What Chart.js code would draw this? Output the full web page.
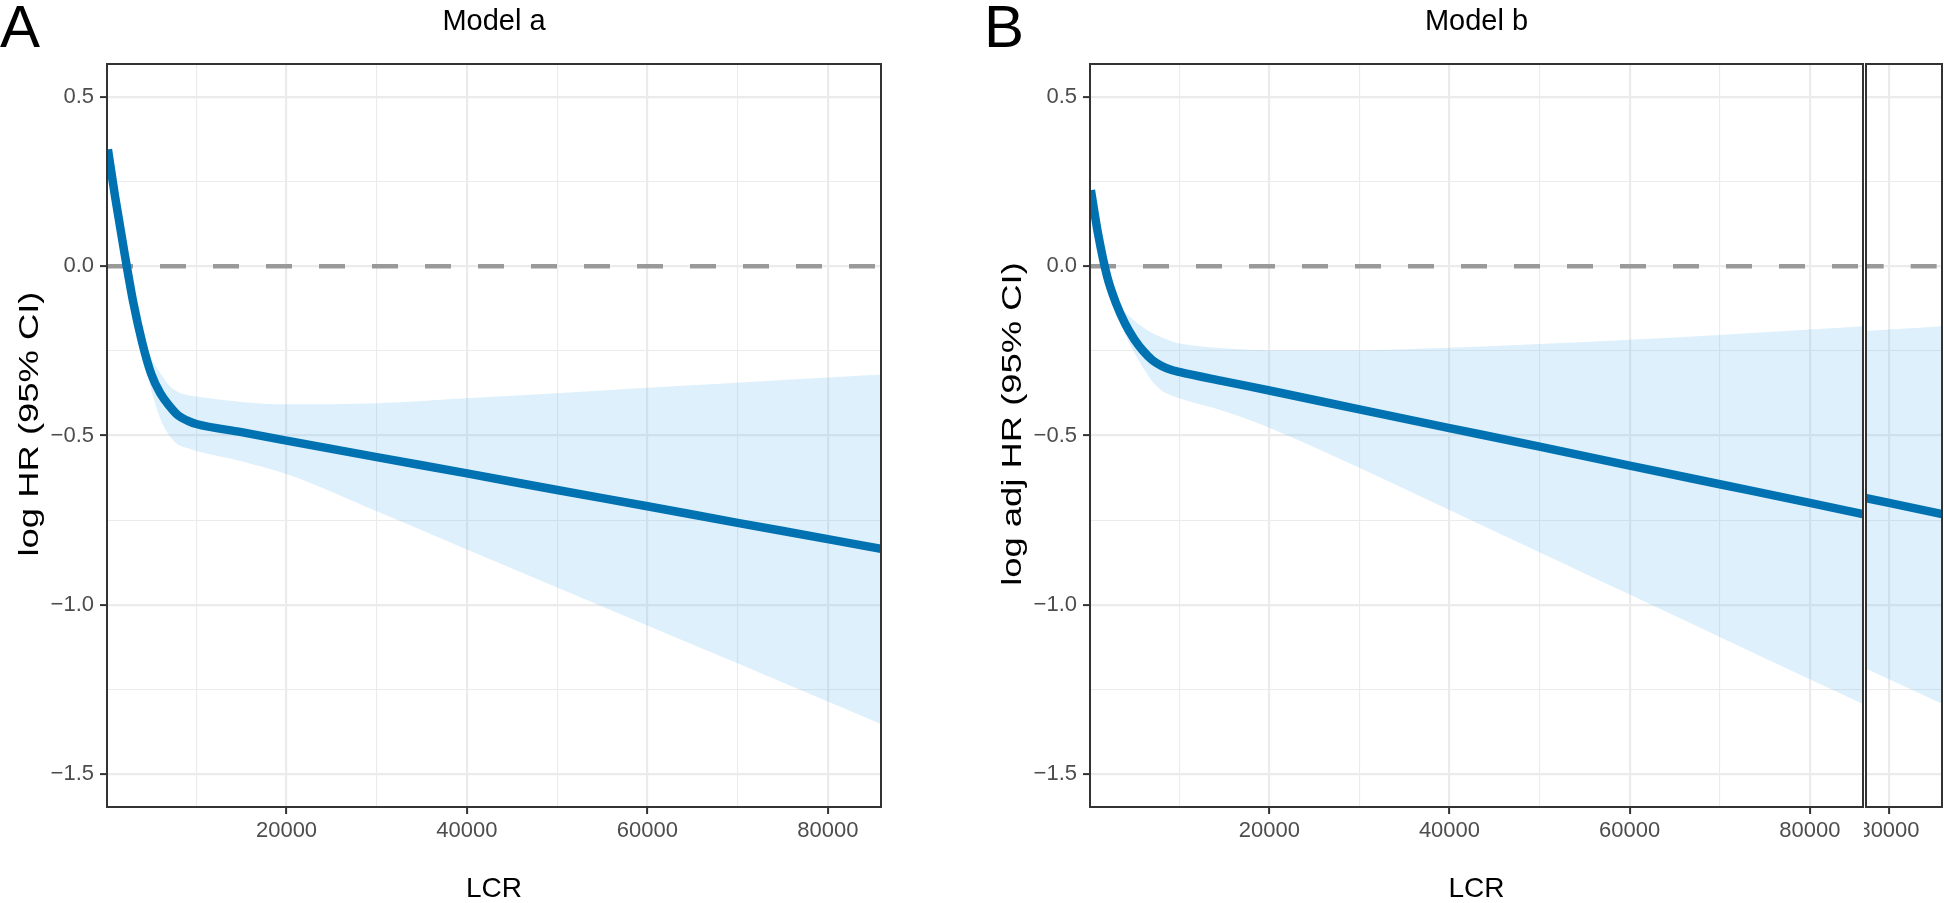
<!DOCTYPE html>
<html>
<head>
<meta charset="utf-8">
<script src="https://cdn.jsdelivr.net/npm/chart.js@4.4.1/dist/chart.umd.min.js"></script>
<style>
  body { margin: 0; background: #fff; overflow: hidden; }
  canvas { position: absolute; top: 0; }
</style>
</head>
<body>
<canvas id="chartA" width="970" height="903" style="left:0px"></canvas>
<canvas id="chartB" width="894" height="903" style="left:970px"></canvas>
<canvas id="chartB2" width="80" height="903" style="left:1864px"></canvas>
<script>
// LCR grid and spline estimates (log HR)
const lcrA   = [200, 1000, 2000, 3000, 4000, 5000, 6000, 7000, 8000, 9000, 10000, 15000, 20000, 30000, 40000, 50000, 60000, 70000, 80000, 85900];
const fitA   = [0.345, 0.205, 0.045, -0.105, -0.225, -0.318, -0.375, -0.412, -0.441, -0.456, -0.466, -0.490, -0.515, -0.564, -0.612, -0.661, -0.709, -0.758, -0.806, -0.835];
const upperA = [0.355, 0.215, 0.057, -0.090, -0.205, -0.272, -0.315, -0.352, -0.372, -0.380, -0.385, -0.401, -0.408, -0.405, -0.390, -0.375, -0.359, -0.344, -0.329, -0.320];
const lowerA = [0.335, 0.195, 0.033, -0.120, -0.245, -0.365, -0.450, -0.500, -0.527, -0.537, -0.546, -0.576, -0.614, -0.724, -0.837, -0.949, -1.061, -1.173, -1.286, -1.352];

const lcrB   = [200, 1000, 2000, 3000, 4000, 5000, 6000, 7000, 8000, 9000, 10000, 15000, 20000, 30000, 40000, 50000, 60000, 70000, 80000, 85900];
const fitB   = [0.225, 0.095, -0.030, -0.110, -0.170, -0.215, -0.250, -0.277, -0.294, -0.305, -0.312, -0.340, -0.367, -0.423, -0.478, -0.533, -0.589, -0.644, -0.699, -0.732];
const upperB = [0.235, 0.105, -0.020, -0.095, -0.135, -0.160, -0.181, -0.197, -0.210, -0.220, -0.228, -0.242, -0.248, -0.248, -0.241, -0.230, -0.217, -0.203, -0.187, -0.177];
const lowerB = [0.215, 0.085, -0.040, -0.125, -0.200, -0.255, -0.300, -0.340, -0.366, -0.380, -0.390, -0.428, -0.477, -0.595, -0.720, -0.845, -0.970, -1.095, -1.220, -1.293];

// axis ticks
const xMajor = [20000, 40000, 60000, 80000];
const xMinor = [10000, 30000, 50000, 70000];
const yMajor = [-1.5, -1.0, -0.5, 0.0, 0.5];
const yMinor = [-1.25, -0.75, -0.25, 0.25];

const xLimits = [100, 85900];
const yLimits = [-1.5975, 0.5975];

const fontFamily = '"Liberation Sans", Arial, Helvetica, sans-serif';

function toPoints(xs, ys) {
  return xs.map((x, i) => ({ x: x, y: ys[i] }));
}
function isMajorX(v) { return xMajor.includes(v); }
function isMajorY(v) { return yMajor.some(m => Math.abs(m - v) < 1e-9); }
function fmtY(v) { return v.toFixed(1).replace('-', '\u2212'); }

// frame around the plotting area
const borderPlugin = {
  id: 'panelBorder',
  afterDraw(chart) {
    const a = chart.chartArea, ctx = chart.ctx;
    ctx.save();
    ctx.strokeStyle = '#333333';
    ctx.lineWidth = 2;
    ctx.strokeRect(a.left, a.top, a.right - a.left, a.bottom - a.top);
    ctx.restore();
  }
};

// big "A" / "B" tag and the (stretched) y axis title
const textPlugin = {
  id: 'panelText',
  afterDraw(chart, args, opts) {
    const ctx = chart.ctx;
    ctx.save();
    ctx.fillStyle = '#000';
    if (opts.letter) {
      ctx.font = '60px ' + fontFamily;
      ctx.textBaseline = 'alphabetic';
      ctx.fillText(opts.letter, opts.letterX, 47);
    }
    if (opts.yTitle) {
      ctx.font = '28px ' + fontFamily;
      ctx.textAlign = 'center';
      ctx.textBaseline = 'middle';
      ctx.translate(opts.yTitleX, opts.yTitleY);
      ctx.rotate(-Math.PI / 2);
      ctx.scale(opts.stretch || 1, 1);
      ctx.fillText(opts.yTitle, 0, 0);
    }
    ctx.restore();
  }
};

function makePanel(id, p) {
  const allX = xMajor.concat(xMinor).sort((a, b) => a - b);
  const allY = yMajor.concat(yMinor).sort((a, b) => a - b);
  const withLabels = !!p.yTitle;

  return new Chart(document.getElementById(id), {
    type: 'line',
    data: {
      datasets: [
        { // CI band top, filled down to next dataset
          data: toPoints(p.lcr, p.upper),
          borderWidth: 0, pointRadius: 0,
          backgroundColor: 'rgba(86,180,233,0.2)',
          fill: '+1', cubicInterpolationMode: 'monotone', order: 2, clip: 0
        },
        { // CI band bottom
          data: toPoints(p.lcr, p.lower),
          borderWidth: 0, pointRadius: 0, fill: false,
          cubicInterpolationMode: 'monotone', order: 2, clip: 0
        },
        { // reference line at 0
          data: [{ x: xLimits[0], y: 0 }, { x: xLimits[1], y: 0 }],
          borderColor: '#999999', borderWidth: 4.5, borderDash: [26, 27],
          pointRadius: 0, fill: false, order: 1, clip: 0
        },
        { // fitted spline
          data: toPoints(p.lcr, p.fit),
          borderColor: '#0072B2', borderWidth: 8.5,
          pointRadius: 0, fill: false, cubicInterpolationMode: 'monotone', order: 0, clip: 0
        }
      ]
    },
    options: {
      responsive: false,
      animation: false,
      events: [],
      layout: { padding: p.padding },
      plugins: {
        legend: { display: false },
        tooltip: { enabled: false },
        title: {
          display: !!p.title,
          text: p.title,
          fullSize: false,
          color: '#000',
          font: { family: fontFamily, size: 29, weight: 'normal', lineHeight: 1.2 },
          padding: { top: 5, bottom: 24.2 }
        },
        panelText: {
          letter: p.letter, letterX: p.letterX,
          yTitle: p.yTitle, yTitleX: p.yTitleX, yTitleY: 424, stretch: 1.3
        }
      },
      scales: {
        x: {
          type: 'linear',
          min: p.xRange[0], max: p.xRange[1],
          afterBuildTicks: s => {
            s.ticks = allX.filter(v => v >= s.min && v <= s.max).map(v => ({ value: v }));
          },
          afterFit: s => { s.height = 96; s.paddingLeft = 0; s.paddingRight = 0; },
          border: { display: false },
          grid: {
            color: '#EBEBEB',
            lineWidth: c => (c.tick && isMajorX(c.tick.value)) ? 2.2 : 1.1,
            tickLength: 7,
            tickWidth: 2,
            tickColor: c => (c.tick && isMajorX(c.tick.value)) ? '#333333' : 'rgba(0,0,0,0)'
          },
          ticks: {
            autoSkip: false, maxRotation: 0, padding: 4,
            color: '#4D4D4D',
            font: { family: fontFamily, size: 22 },
            callback: v => isMajorX(v) ? String(v) : ''
          },
          title: {
            display: !!p.xTitle,
            text: p.xTitle,
            color: '#000',
            font: { family: fontFamily, size: 28, lineHeight: 1 },
            padding: { top: 0, bottom: 0 }
          }
        },
        y: {
          type: 'linear',
          min: yLimits[0], max: yLimits[1],
          afterBuildTicks: s => { s.ticks = allY.map(v => ({ value: v })); },
          afterFit: s => { s.width = p.yWidth; s.paddingTop = 0; s.paddingBottom = 0; },
          border: { display: false },
          grid: {
            color: '#EBEBEB',
            lineWidth: c => (c.tick && isMajorY(c.tick.value)) ? 2.2 : 1.1,
            drawTicks: withLabels,
            tickLength: 7,
            tickWidth: 2,
            tickColor: c => (c.tick && isMajorY(c.tick.value)) ? '#333333' : 'rgba(0,0,0,0)'
          },
          ticks: {
            display: withLabels,
            padding: 6,
            color: '#4D4D4D',
            font: { family: fontFamily, size: 22 },
            callback: v => isMajorY(v) ? fmtY(v) : ''
          },
          title: { display: false }
        }
      }
    },
    plugins: [borderPlugin, textPlugin]
  });
}

makePanel('chartA', {
  lcr: lcrA, fit: fitA, upper: upperA, lower: lowerA,
  title: 'Model a', xTitle: 'LCR', yTitle: 'log HR (95% CI)',
  xRange: xLimits, yWidth: 107, yTitleX: 30,
  padding: { left: 0, right: 89, top: 0, bottom: 0 },
  letter: 'A', letterX: 0
});

makePanel('chartB', {
  lcr: lcrB, fit: fitB, upper: upperB, lower: lowerB,
  title: 'Model b', xTitle: 'LCR', yTitle: 'log adj HR (95% CI)',
  xRange: xLimits, yWidth: 120, yTitleX: 43,
  padding: { left: 0, right: 1, top: 0, bottom: 0 },
  letter: 'B', letterX: 14
});

// stray strip at the right edge: the tail of model b repeated
makePanel('chartB2', {
  lcr: lcrB, fit: fitB, upper: upperB, lower: lowerB,
  title: '', xTitle: '', yTitle: '',
  xRange: [77450, 85880], yWidth: 2,
  padding: { left: 0, right: 2, top: 64, bottom: 0 }
});
</script>
</body>
</html>
